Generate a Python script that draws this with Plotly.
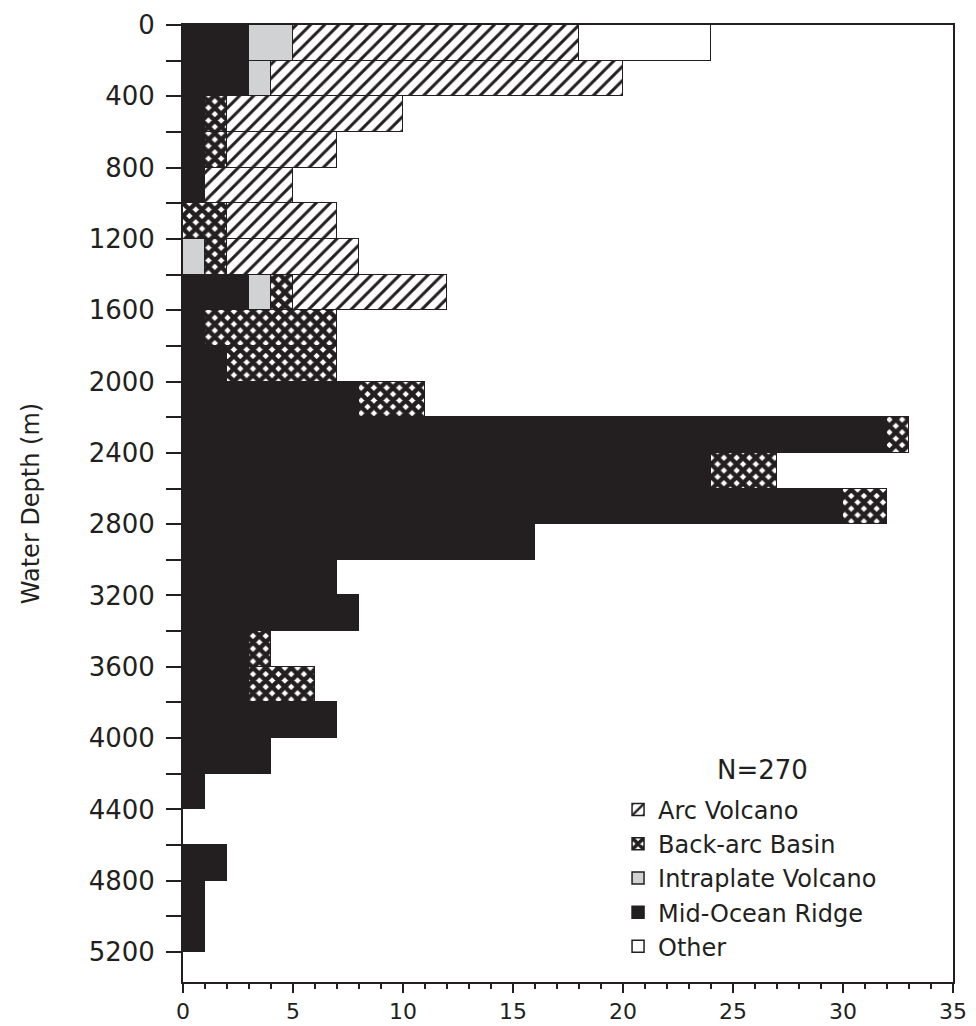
import plotly.graph_objects as go

# Depth bins (m): each bar covers [start, start+200)
bin_start = list(range(0, 5200, 200))
bin_width = 200

# Counts per 200 m bin, stacked left -> right
mid_ocean_ridge = [3, 3, 1, 1, 1, 0, 0, 3, 1, 2, 8, 32, 24, 30, 16, 7, 8, 3, 3, 7, 4, 1, 0, 2, 1, 1]
intraplate      = [2, 1, 0, 0, 0, 0, 1, 1, 0, 0, 0, 0, 0, 0, 0, 0, 0, 0, 0, 0, 0, 0, 0, 0, 0, 0]
back_arc        = [0, 0, 1, 1, 0, 2, 1, 1, 6, 5, 3, 1, 3, 2, 0, 0, 0, 1, 3, 0, 0, 0, 0, 0, 0, 0]
arc_volcano     = [13, 16, 8, 5, 4, 5, 6, 7, 0, 0, 0, 0, 0, 0, 0, 0, 0, 0, 0, 0, 0, 0, 0, 0, 0, 0]
other           = [6, 0, 0, 0, 0, 0, 0, 0, 0, 0, 0, 0, 0, 0, 0, 0, 0, 0, 0, 0, 0, 0, 0, 0, 0, 0]

depth_ticks = list(range(0, 5201, 400))
count_ticks = list(range(0, 36, 5))
n_label = "N=270"

centers = [s + bin_width / 2 for s in bin_start]
INK = "#231f20"
FONT = "DejaVu Sans"


def nz(vals):
    return [v if v else None for v in vals]


fig = go.Figure()

series = [
    ("Mid-Ocean Ridge", mid_ocean_ridge, dict(color=INK), 4),
    ("Intraplate Volcano", intraplate, dict(color="#d1d2d4"), 3),
    ("Back-arc Basin", back_arc,
     dict(color="white", pattern=dict(shape="x", fgcolor=INK, bgcolor="white",
                                      size=9, solidity=0.75, fillmode="replace")), 2),
    ("Arc Volcano", arc_volcano,
     dict(color="white", pattern=dict(shape="/", fgcolor=INK, bgcolor="white",
                                      size=10, solidity=0.3, fillmode="replace")), 1),
    ("Other", other, dict(color="white"), 5),
]

for name, vals, marker, rank in series:
    m = dict(marker)
    m["line"] = dict(color=INK, width=1.5)
    fig.add_trace(go.Bar(
        name=name, y=centers, x=nz(vals), orientation="h",
        width=bin_width, marker=m, legendrank=rank,
    ))

fig.update_layout(
    width=976, height=1026,
    barmode="stack", bargap=0,
    paper_bgcolor="white", plot_bgcolor="white",
    margin=dict(l=183, r=23, t=25, b=44, autoexpand=False),
    font=dict(family=FONT, size=26, color=INK),
    showlegend=True,
    legend=dict(x=0.565, y=0.2033, xanchor="left", yanchor="top",
                bgcolor="rgba(0,0,0,0)", font=dict(size=24, family=FONT, color=INK),
                traceorder="normal", tracegroupgap=0),
    annotations=[dict(text=n_label, xref="paper", yref="paper", x=0.752, y=0.2215,
                      xanchor="center", yanchor="middle", showarrow=False,
                      font=dict(size=26, family=FONT, color=INK))],
)

fig.update_xaxes(
    range=[0, 35], tickvals=count_ticks, ticks="outside", ticklen=9, tickwidth=2,
    tickcolor=INK, showline=True, linecolor=INK, linewidth=2, mirror=True,
    showgrid=False, zeroline=False, automargin=False,
    minor=dict(dtick=1, ticks="outside", ticklen=5, tickwidth=2, tickcolor=INK, showgrid=False),
    tickfont=dict(size=22, family=FONT, color=INK), ticklabelstandoff=0,
)
fig.update_yaxes(
    range=[5368, 0], tickvals=depth_ticks, ticks="outside", ticklen=15, tickwidth=2,
    tickcolor=INK, showline=True, linecolor=INK, linewidth=2, mirror=True,
    showgrid=False, zeroline=False, automargin=False,
    minor=dict(dtick=200, tick0=0, ticks="outside", ticklen=15, tickwidth=2, tickcolor=INK, showgrid=False),
    tickfont=dict(size=26, family=FONT, color=INK), ticklabelstandoff=6,
    title=dict(text="Water Depth (m)", font=dict(size=24, family=FONT, color=INK), standoff=42),
)

fig.write_html("out.html", config={"displayModeBar": False},
               post_script="document.body.style.margin='0';")
